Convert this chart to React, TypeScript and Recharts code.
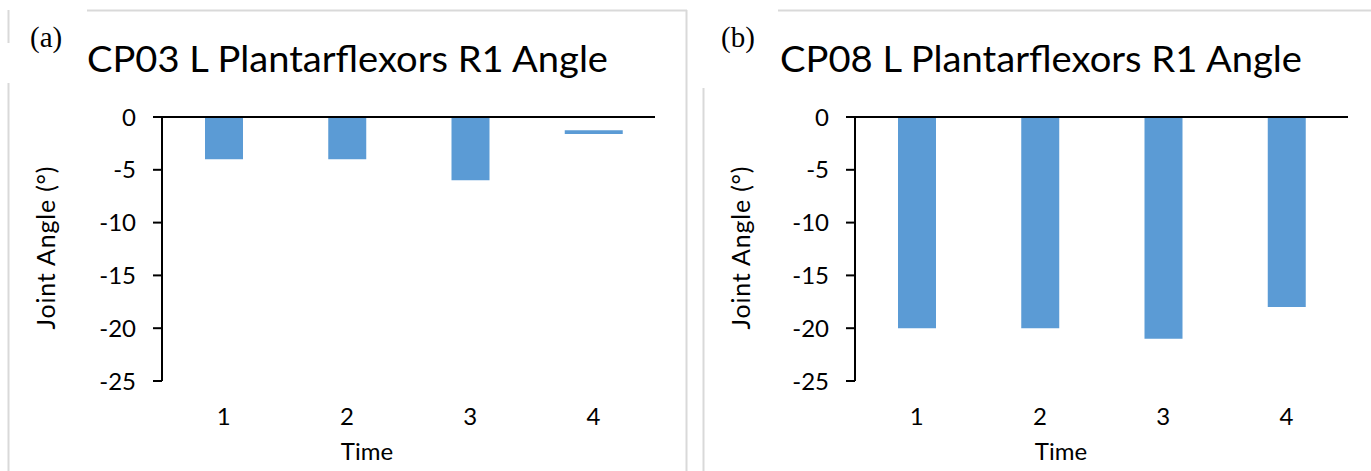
import React from 'react';
import { BarChart, Bar, XAxis, YAxis, ReferenceLine } from 'recharts';

const times = ['1', '2', '3', '4'];
const cp03Angle: (number | null)[] = [-4, -4, -6, null];
const cp03Marker: ([number, number] | null)[] = [null, null, null, [-1.25, -1.6]];
const cp08Angle: (number | null)[] = [-20, -20, -21, -18];
const cp08Marker: ([number, number] | null)[] = [null, null, null, null];
const yTicks = [0, -5, -10, -15, -20, -25];

const FONT = 'Lato, "Open Sans", sans-serif';
const SERIF = '"Liberation Serif", "Times New Roman", serif';
const BAR = '#5b9bd5';
const FRAME = '#d9d9d9';

type PanelProps = { left: number; angle: (number | null)[]; marker: ([number, number] | null)[] };

function Panel({ left, angle, marker }: PanelProps) {
  const data = times.map((t, i) => ({ time: t, angle: angle[i], marker: marker[i] }));
  return (
    <div style={{ position: 'absolute', left, top: 0 }}>
      <BarChart width={700} height={471} data={data} margin={{ top: 117, right: 45, bottom: 50, left: 102 }}>
        <XAxis
          dataKey="time"
          axisLine={false}
          tickLine={false}
          tickSize={0}
          tickMargin={27}
          height={40}
          tick={{ fill: '#000', fontSize: 24, fontFamily: FONT }}
        />
        <XAxis xAxisId="m" dataKey="time" hide />
        <YAxis
          domain={[-25, 0]}
          ticks={yTicks}
          width={60}
          interval={0}
          allowDataOverflow
          axisLine={{ stroke: '#000', strokeWidth: 2 }}
          tickLine={{ stroke: '#000', strokeWidth: 2 }}
          tickSize={9}
          tickMargin={17}
          tick={{ fill: '#000', fontSize: 24, fontFamily: FONT }}
        />
        <Bar dataKey="angle" fill={BAR} barSize={38} isAnimationActive={false} />
        <Bar dataKey="marker" xAxisId="m" fill={BAR} barSize={58} isAnimationActive={false} />
        <ReferenceLine y={0} stroke="#000" strokeWidth={2} />
      </BarChart>
    </div>
  );
}

export default function App() {
  return (
    <div style={{ position: 'fixed', left: 0, top: 0, width: 1371, height: 471, background: '#fff', overflow: 'hidden', fontFamily: FONT }}>
      <Panel left={0} angle={cp03Angle} marker={cp03Marker} />
      <Panel left={693} angle={cp08Angle} marker={cp08Marker} />
      <svg width={1371} height={471} style={{ position: 'absolute', left: 0, top: 0, pointerEvents: 'none' }}>
        <line x1={87} y1={10.5} x2={687} y2={10.5} stroke={FRAME} strokeWidth={2} />
        <line x1={686.5} y1={10} x2={686.5} y2={471} stroke={FRAME} strokeWidth={2} />
        <line x1={8.5} y1={10} x2={8.5} y2={43} stroke={FRAME} strokeWidth={2} />
        <line x1={8.5} y1={83} x2={8.5} y2={471} stroke={FRAME} strokeWidth={2} />
        <line x1={778} y1={10.5} x2={1371} y2={10.5} stroke={FRAME} strokeWidth={2} />
        <line x1={703.5} y1={88} x2={703.5} y2={471} stroke={FRAME} strokeWidth={2} />
        <text x={30} y={47} fontFamily={SERIF} fontSize={29} fill="#000">(a)</text>
        <text x={721} y={47} fontFamily={SERIF} fontSize={29} fill="#000">(b)</text>
        <text x={87} y={72} fontFamily={FONT} fontSize={37} textLength={521} lengthAdjust="spacingAndGlyphs" fill="#000">CP03 L Plantarflexors R1 Angle</text>
        <text x={780} y={72} fontFamily={FONT} fontSize={37} textLength={522} lengthAdjust="spacingAndGlyphs" fill="#000">CP08 L Plantarflexors R1 Angle</text>
        <text x={367} y={460} textAnchor="middle" fontFamily={FONT} fontSize={24} fill="#000">Time</text>
        <text x={1061} y={460} textAnchor="middle" fontFamily={FONT} fontSize={24} fill="#000">Time</text>
        <text x={0} y={0} transform="translate(55,248) rotate(-90)" textAnchor="middle" fontFamily={FONT} fontSize={25} textLength={163} lengthAdjust="spacing" fill="#000">Joint Angle (°)</text>
        <text x={0} y={0} transform="translate(750,248) rotate(-90)" textAnchor="middle" fontFamily={FONT} fontSize={25} textLength={163} lengthAdjust="spacing" fill="#000">Joint Angle (°)</text>
      </svg>
    </div>
  );
}
